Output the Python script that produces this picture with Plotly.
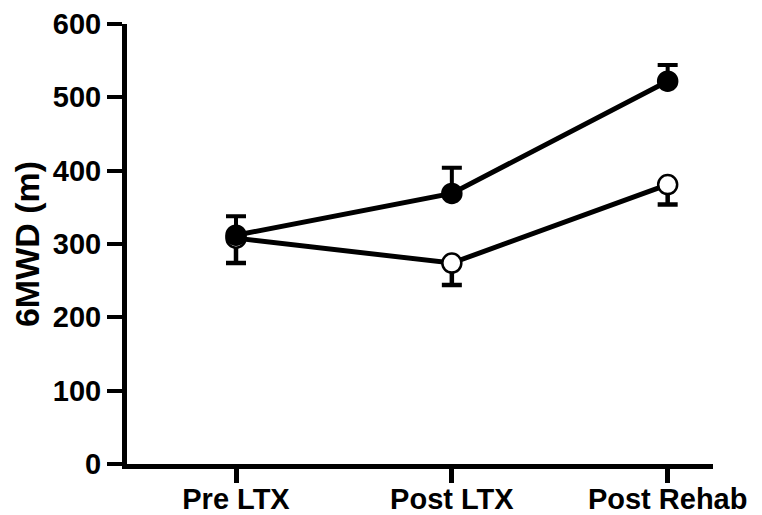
import plotly.graph_objects as go

categories = ["Pre LTX", "Post LTX", "Post Rehab"]
filled_mean = [312, 369, 522]
filled_err_up = [26, 35, 22]
open_mean = [308, 274, 381]
open_err_down = [34, 30, 27]
y_ticks = [0, 100, 200, 300, 400, 500, 600]

FONT = "Liberation Sans, Arial, sans-serif"

fig = go.Figure()

fig.add_trace(go.Scatter(
    x=categories, y=open_mean, mode="lines+markers",
    line=dict(color="black", width=5),
    marker=dict(symbol="circle", size=19, color="white", line=dict(color="black", width=2.5)),
    error_y=dict(type="data", symmetric=False, array=[0] * len(open_mean),
                 arrayminus=open_err_down, color="black", thickness=4.5, width=10),
    cliponaxis=False, showlegend=False,
))
fig.add_trace(go.Scatter(
    x=categories, y=filled_mean, mode="lines+markers",
    line=dict(color="black", width=5),
    marker=dict(symbol="circle", size=19, color="black", line=dict(color="black", width=2.5)),
    error_y=dict(type="data", symmetric=False, array=filled_err_up,
                 arrayminus=[0] * len(filled_mean), color="black", thickness=4, width=10),
    cliponaxis=False, showlegend=False,
))

fig.update_layout(
    width=754, height=507,
    margin=dict(l=119, r=49, t=16, b=51),
    paper_bgcolor="white", plot_bgcolor="white",
    font=dict(family=FONT, color="black"),
)
fig.update_xaxes(
    type="category", range=[-0.505, 2.21], automargin=False,
    showgrid=False, zeroline=False,
    showline=True, linecolor="black", linewidth=5,
    ticks="outside", ticklen=14, tickwidth=5, tickcolor="black",
    ticklabelstandoff=-9,
    tickfont=dict(family=FONT, size=29, color="black", weight="bold"),
)
fig.update_yaxes(
    range=[0, 600], tickvals=y_ticks, automargin=False,
    showgrid=False, zeroline=False,
    showline=True, linecolor="black", linewidth=5,
    ticks="outside", ticklen=15, tickwidth=4, tickcolor="black",
    tickfont=dict(family=FONT, size=29, color="black", weight="bold"),
    title=dict(text="6MWD (m)", font=dict(family=FONT, size=34, color="black", weight="bold"), standoff=8),
)

fig.write_html("out.html")
